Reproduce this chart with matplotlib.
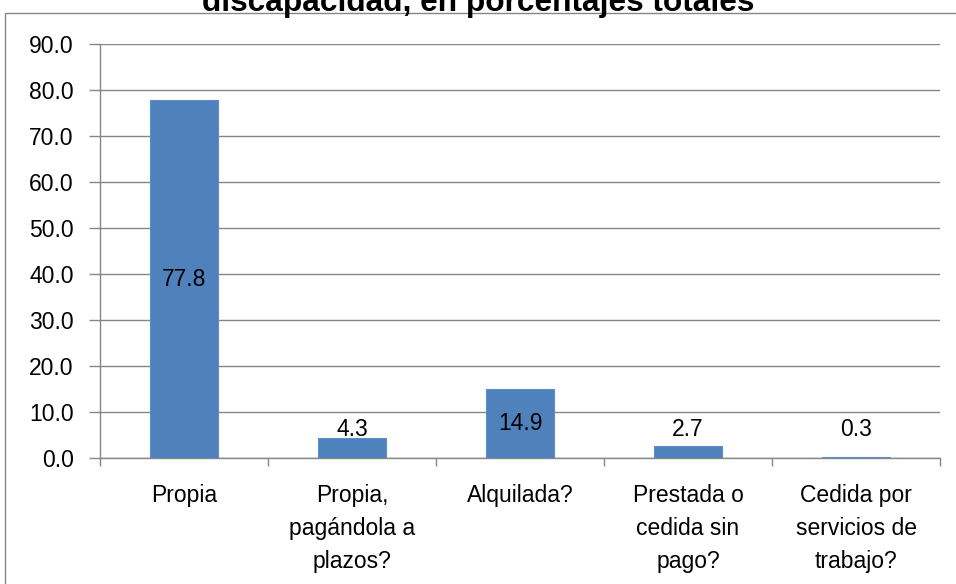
import matplotlib.pyplot as plt
from matplotlib.patches import Rectangle
import numpy as np

categorias = ["Propia", "Propia,\npagándola a\nplazos?", "Alquilada?",
              "Prestada o\ncedida sin\npago?", "Cedida por\nservicios de\ntrabajo?"]
porcentajes = [77.8, 4.3, 14.9, 2.7, 0.3]
titulo = "discapacidad, en porcentajes totales"

plt.rcParams['font.family'] = ['Liberation Sans', 'DejaVu Sans']

fig = plt.figure(figsize=(9.56, 5.84), dpi=100)
ax = fig.add_axes([100/956, 126/584, 840/956, 414/584])

x = np.arange(len(categorias))
ax.bar(x, porcentajes, width=0.4, color='#4F81BD', edgecolor='#5B8FCB', linewidth=0.8, zorder=3)

# etiquetas de datos (centradas, con un minimo para barras bajas)
for xi, v in zip(x, porcentajes):
    ax.text(xi, max(v / 2, 6.1), f"{v:.1f}", ha='center', va='center', fontsize=16.5, color='black', zorder=4)

ax.set_xlim(-0.5, len(categorias) - 0.5)
ax.set_ylim(0, 90)
ax.set_yticks(np.arange(0, 91, 10))
ax.set_yticklabels([f"{t:.1f}" for t in np.arange(0, 91, 10)], fontsize=16.5)
ax.set_xticks(x)
ax.set_xticklabels(categorias, fontsize=16.5, linespacing=1.55, va='top')
ax.set_xticks(np.arange(-0.5, len(categorias)), minor=True)
ax.tick_params(axis='x', which='major', length=0, pad=19)
ax.tick_params(axis='x', which='minor', length=6, color='#868686', width=1)
ax.tick_params(axis='y', length=8, color='#868686', width=1, pad=11)

ax.grid(axis='y', color='#868686', linewidth=1, zorder=0)
for s in ['top', 'right']:
    ax.spines[s].set_visible(False)
for s in ['left', 'bottom']:
    ax.spines[s].set_color('#868686')
    ax.spines[s].set_linewidth(1)

fig.patches.append(Rectangle((5/956, -0.1), 1.0, 1 - 13/584 + 0.1, transform=fig.transFigure,
                             fill=False, edgecolor='#868686', linewidth=1))

fig.text(0.5, 1 - 11/584, titulo, ha='center', va='baseline', fontsize=22.8, fontweight='bold')

fig.savefig("out.png", dpi=100)
